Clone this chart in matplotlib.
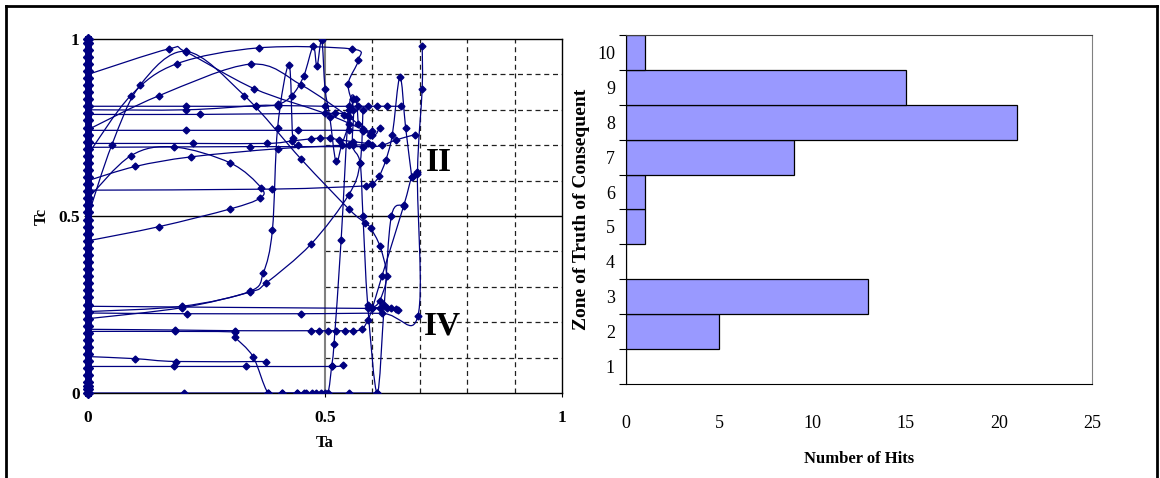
import numpy as np
import matplotlib
matplotlib.use("Agg")
import matplotlib.pyplot as plt
from matplotlib.path import Path
from matplotlib.patches import PathPatch
from matplotlib.lines import Line2D

plt.rcParams["font.family"] = ["Liberation Serif", "DejaVu Serif"]

NAVY = "#000080"

# Ta / Tc trajectories, every run starts on the Ta = 0 axis
run_01 = [(0, 0.81), (0.207, 0.81), (0.355, 0.81), (0.40, 0.812), (0.50, 0.81), (0.55, 0.81),
          (0.57, 0.81), (0.59, 0.81), (0.61, 0.81), (0.63, 0.81), (0.66, 0.81)]
run_02 = [(0, 0.80), (0.207, 0.80), (0.355, 0.812), (0.40, 0.815), (0.43, 0.84), (0.455, 0.895),
          (0.475, 0.979), (0.483, 0.923), (0.493, 0.998), (0.50, 0.86), (0.51, 0.78),
          (0.523, 0.654), (0.535, 0.70), (0.55, 0.76), (0.56, 0.83)]
run_03 = [(0, 0.787), (0.236, 0.787), (0.52, 0.79), (0.54, 0.785)]
run_04 = [(0, 0.742), (0.207, 0.742), (0.444, 0.742), (0.55, 0.742), (0.58, 0.74), (0.595, 0.73)]
run_05 = [(0, 0.705), (0.222, 0.705), (0.378, 0.705), (0.43, 0.712), (0.47, 0.718), (0.49, 0.72),
          (0.51, 0.72), (0.53, 0.715), (0.56, 0.71), (0.59, 0.705)]
run_06 = [(0, 0.694), (0.341, 0.696), (0.58, 0.696), (0.62, 0.70), (0.65, 0.715), (0.69, 0.73)]
run_07 = [(0, 0.573), (0.389, 0.576), (0.586, 0.585), (0.60, 0.59), (0.614, 0.612),
          (0.628, 0.657), (0.642, 0.73), (0.658, 0.893), (0.67, 0.75), (0.683, 0.61)]
run_08 = [(0, 0.245), (0.59, 0.239), (0.60, 0.24), (0.615, 0.24), (0.63, 0.24), (0.64, 0.24),
          (0.65, 0.238), (0.655, 0.235)]
run_09 = [(0, 0.226), (0.208, 0.224), (0.45, 0.224), (0.62, 0.225), (0.696, 0.218),
          (0.695, 0.62), (0.705, 0.86), (0.705, 0.98)]
run_10 = [(0, 0.18), (0.184, 0.178), (0.31, 0.176), (0.47, 0.176), (0.488, 0.176), (0.506, 0.176),
          (0.524, 0.176), (0.542, 0.176), (0.56, 0.176), (0.578, 0.18), (0.59, 0.205),
          (0.60, 0.24), (0.62, 0.33), (0.666, 0.529), (0.683, 0.61), (0.695, 0.625)]
run_11 = [(0, 0.174), (0.184, 0.174), (0.31, 0.172), (0.31, 0.158), (0.348, 0.103), (0.38, 0.0),
          (0.41, 0.0), (0.44, 0.0), (0.455, 0.0), (0.473, 0.0), (0.492, 0.0), (0.506, 0.0),
          (0.514, 0.076), (0.519, 0.139), (0.534, 0.433), (0.55, 0.80), (0.565, 0.83), (0.57, 0.76)]
run_12 = [(0, 0.103), (0.10, 0.097), (0.186, 0.089), (0.375, 0.089)]
run_13 = [(0, 0.075), (0.182, 0.075), (0.333, 0.075), (0.515, 0.075), (0.537, 0.078)]
run_14 = [(0, 0.0), (0.202, 0.0), (0.38, 0.0), (0.41, 0.0), (0.44, 0.0), (0.46, 0.0), (0.48, 0.0),
          (0.50, 0.0), (0.55, 0.0), (0.61, 0.0)]
run_15 = [(0, 0.674), (0.09, 0.84), (0.187, 0.93), (0.36, 0.975), (0.556, 0.972), (0.57, 0.94),
          (0.549, 0.873), (0.56, 0.80), (0.558, 0.70), (0.574, 0.65), (0.58, 0.50), (0.59, 0.25),
          (0.61, 0.0), (0.625, 0.25), (0.64, 0.50), (0.666, 0.53)]
run_16 = [(0, 0.90), (0.17, 0.972), (0.207, 0.963), (0.35, 0.86), (0.50, 0.79), (0.58, 0.745),
          (0.60, 0.74)]
run_17 = [(0, 0.50), (0.05, 0.70), (0.11, 0.87), (0.207, 0.965), (0.33, 0.84), (0.45, 0.66),
          (0.55, 0.52), (0.585, 0.48), (0.596, 0.466), (0.616, 0.414), (0.63, 0.33),
          (0.615, 0.26), (0.60, 0.24)]
run_18 = [(0, 0.43), (0.15, 0.47), (0.30, 0.52), (0.362, 0.55), (0.365, 0.58), (0.30, 0.65),
          (0.181, 0.695), (0.09, 0.67), (0, 0.55)]
run_19 = [(0, 0.60), (0.10, 0.64), (0.217, 0.667), (0.40, 0.69), (0.55, 0.70), (0.60, 0.70)]
run_20 = [(0, 0.21), (0.198, 0.241), (0.341, 0.285), (0.376, 0.311), (0.47, 0.42), (0.55, 0.56),
          (0.574, 0.65), (0.58, 0.80)]
run_21 = [(0, 0.23), (0.198, 0.245), (0.341, 0.287), (0.37, 0.34), (0.389, 0.461), (0.40, 0.75),
          (0.424, 0.927), (0.432, 0.72), (0.444, 0.70)]
run_22 = [(0, 0.744), (0.15, 0.84), (0.343, 0.929), (0.45, 0.87), (0.55, 0.78), (0.60, 0.73),
          (0.615, 0.75)]

runs = [run_01, run_02, run_03, run_04, run_05, run_06, run_07, run_08, run_09, run_10, run_11,
        run_12, run_13, run_14, run_15, run_16, run_17, run_18, run_19, run_20, run_21, run_22]

# points that sit on the Ta = 0 axis before each run moves off it
axis_tc = [0.0, 0.01, 0.02, 0.03, 0.05, 0.07, 0.09, 0.11, 0.13, 0.15, 0.17, 0.19, 0.21, 0.23,
           0.25, 0.27, 0.29, 0.31, 0.33, 0.35, 0.37, 0.39, 0.41, 0.43, 0.45, 0.47, 0.49, 0.51,
           0.53, 0.55, 0.57, 0.59, 0.61, 0.63, 0.65, 0.67, 0.69, 0.71, 0.73, 0.75, 0.77, 0.79,
           0.81, 0.83, 0.85, 0.87, 0.89, 0.91, 0.93, 0.95, 0.97, 0.99, 1.0]

# histogram of consequent zones
zones = [1, 2, 3, 4, 5, 6, 7, 8, 9, 10]
hits = [0, 5, 13, 0, 1, 1, 9, 21, 15, 1]
hit_ticks = [0, 5, 10, 15, 20, 25]


def smooth_path(pts):
    # Catmull-Rom style smoothing drawn as cubic Bezier segments
    p = np.asarray(pts, float)
    verts = [p[0]]
    codes = [Path.MOVETO]
    n = len(p)
    for i in range(n - 1):
        p0 = p[i - 1] if i > 0 else p[i]
        p1, p2 = p[i], p[i + 1]
        p3 = p[i + 2] if i + 2 < n else p[i + 1]
        verts += [p1 + (p2 - p0) / 6, p2 - (p3 - p1) / 6, p2]
        codes += [Path.CURVE4] * 3
    return Path(verts, codes)


fig = plt.figure(figsize=(11.6, 4.78), dpi=100)

# ---- left: trajectories in the Ta/Tc plane
ax = fig.add_axes([0.0759, 0.1778, 0.4086, 0.7406])
ax.set_xlim(0, 1)
ax.set_ylim(0, 1)

dash = dict(color="#202020", lw=0.9, ls=(0, (4, 3)), zorder=1)
for gx in [0.6, 0.7, 0.8, 0.9]:
    ax.axvline(gx, **dash)
for gy in [0.1, 0.2, 0.3, 0.4, 0.6, 0.7, 0.8, 0.9]:
    ax.plot([0.5, 1.0], [gy, gy], **dash)
ax.axvline(0.5, color="#808080", lw=1.5, zorder=1)
ax.axhline(0.5, color="black", lw=1.0, zorder=1)

for run in runs:
    ax.add_patch(PathPatch(smooth_path(run), fc="none", ec=NAVY, lw=0.9, zorder=3))
    ta = [q[0] for q in run]
    tc = [q[1] for q in run]
    ax.plot(ta[1:], tc[1:], ls="none", marker="D", ms=3.5, color=NAVY, zorder=4)

ax.plot([0] * len(axis_tc), axis_tc, color=NAVY, lw=5, marker="D", ms=5, zorder=5,
        clip_on=False)

ax.set_xticks([0, 0.5, 1])
ax.set_xticklabels(["0", "0.5", "1"])
ax.set_yticks([0, 0.5, 1])
ax.set_yticklabels(["0", "0.5", "1"])
ax.tick_params(axis="x", direction="out", length=3, width=0.8, pad=9, labelsize=12.5)
ax.tick_params(axis="y", direction="out", length=3, width=0.8, pad=3, labelsize=12.5)
for lab in ax.get_xticklabels() + ax.get_yticklabels():
    lab.set_fontweight("bold")
for s in ax.spines.values():
    s.set_linewidth(1.0)
ax.set_xlabel("Ta", fontsize=12, fontweight="bold", labelpad=7)
ax.set_ylabel("Tc", fontsize=12, fontweight="bold", labelpad=6)

ax.text(0.74, 0.65, "II", fontsize=24, fontweight="bold", ha="center", va="center")
ax.text(0.748, 0.188, "IV", fontsize=24, fontweight="bold", ha="center", va="center")

# ---- right: hits per zone
bx = fig.add_axes([0.5397, 0.1967, 0.4017, 0.7301])
bx.barh(zones, hits, height=1.0, color="#9999FF", edgecolor="black", lw=0.9)
bx.set_xlim(0, 25)
bx.set_ylim(0.5, 10.5)
bx.set_xticks(hit_ticks)
bx.set_yticks(zones)
bx.set_yticks([z - 0.5 for z in zones] + [10.5], minor=True)
bx.tick_params(axis="x", length=0, pad=22, labelsize=13)
bx.tick_params(axis="y", which="major", length=0, pad=8, labelsize=13)
bx.tick_params(axis="y", which="minor", length=5, width=0.8, direction="out")
bx.spines["right"].set_color("#808080")
bx.spines["top"].set_color("#404040")
bx.set_xlabel("Number of Hits", fontsize=12, fontweight="bold", labelpad=14)
bx.set_ylabel("Zone of Truth of Consequent", fontsize=14, fontweight="bold", labelpad=5)

# outer frame
for xs, ys in [([0.005, 0.005], [0.0, 0.988]), ([0.005, 0.997], [0.988, 0.988]),
               ([0.997, 0.997], [0.0, 0.988])]:
    fig.add_artist(Line2D(xs, ys, color="black", lw=2))

fig.savefig("out.png", dpi=100)
